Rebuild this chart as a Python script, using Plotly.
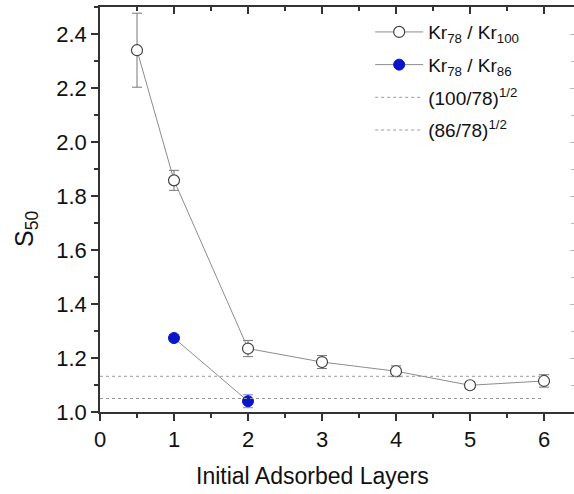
import plotly.graph_objects as go

layers_100 = [0.5, 1, 2, 3, 4, 5, 6]
s50_100 = [2.34, 1.858, 1.235, 1.185, 1.151, 1.099, 1.115]
err_100 = [0.137, 0.037, 0.03, 0.024, 0.02, 0.013, 0.023]

layers_86 = [1, 2]
s50_86 = [1.274, 1.04]
err_86 = [0.012, 0.024]

ref_x = [0, 6]
ref_100 = (100 / 78) ** 0.5
ref_86 = (86 / 78) ** 0.5

FONT = "Liberation Sans, Arial, sans-serif"
AX = "#333333"

fig = go.Figure()
fig.add_trace(go.Scatter(
    x=layers_100, y=s50_100, mode="lines+markers", legendgroup="a",
    name="Kr<sub>78</sub> / Kr<sub>100</sub>",
    line=dict(color="#8c8c8c", width=1),
    marker=dict(symbol="circle", size=11, color="white", line=dict(color="#444444", width=1.2)),
    error_y=dict(type="data", array=err_100, color="#777777", thickness=1, width=5),
))
fig.add_trace(go.Scatter(
    x=layers_86, y=s50_86, mode="lines+markers", legendgroup="b",
    name="Kr<sub>78</sub> / Kr<sub>86</sub>",
    line=dict(color="#8c8c8c", width=1),
    marker=dict(symbol="circle", size=11, color="#0a14c8", line=dict(color="#0a14c8", width=1)),
    error_y=dict(type="data", array=err_86, color="#8080ff", thickness=1, width=5),
))
fig.add_trace(go.Scatter(
    x=ref_x, y=[ref_100] * len(ref_x), mode="lines", legendgroup="c",
    name="(100/78)<sup>1/2</sup>",
    line=dict(color="#999999", width=1, dash="dot"),
))
fig.add_trace(go.Scatter(
    x=ref_x, y=[ref_86] * len(ref_x), mode="lines", legendgroup="d",
    name="(86/78)<sup>1/2</sup>",
    line=dict(color="#999999", width=1, dash="dot"),
))
# invisible trace to activate mirror axes
fig.add_trace(go.Scatter(x=[0], y=[1.0], xaxis="x2", yaxis="y2", mode="markers",
                         marker=dict(opacity=0), showlegend=False, hoverinfo="skip"))

XR = [0, 6.405]
YR = [1.0, 2.5]

fig.update_layout(
    width=574, height=494,
    margin=dict(l=100, r=0, t=7, b=82),
    paper_bgcolor="white", plot_bgcolor="white",
    font=dict(family=FONT, color="#111111"),
    showlegend=True,
    legend=dict(x=0.57, y=0.985, xanchor="left", yanchor="top",
                bgcolor="rgba(0,0,0,0)", font=dict(size=19, family=FONT),
                tracegroupgap=5, itemwidth=48),
    xaxis=dict(range=XR, tickmode="linear", tick0=0, dtick=1,
               ticks="outside", ticklen=7, tickwidth=1.5, tickcolor=AX,
               showline=True, linecolor=AX, linewidth=1.5, showgrid=False, zeroline=False,
               tickfont=dict(size=22, family=FONT, color="#111111"),
               minor=dict(dtick=0.5, tick0=0, ticks="outside", ticklen=4, tickwidth=1.5, tickcolor=AX)),
    yaxis=dict(range=YR, tickmode="linear", tick0=1.0, dtick=0.2, tickformat=".1f",
               ticks="outside", ticklen=7, tickwidth=1.5, tickcolor=AX,
               showline=True, linecolor=AX, linewidth=1.5, showgrid=False, zeroline=False,
               tickfont=dict(size=22, family=FONT, color="#111111"),
               minor=dict(dtick=0.1, tick0=1.0, ticks="outside", ticklen=4, tickwidth=1.5, tickcolor=AX)),
    xaxis2=dict(range=XR, overlaying="x", side="top", anchor="y2", tickmode="linear", tick0=0, dtick=1,
                ticks="inside", ticklen=7, tickwidth=1.5, tickcolor=AX, showticklabels=False,
                showline=True, linecolor=AX, linewidth=1.5, showgrid=False, zeroline=False,
                minor=dict(dtick=0.5, tick0=0, ticks="inside", ticklen=4, tickwidth=1.5, tickcolor=AX)),
    yaxis2=dict(range=YR, overlaying="y", side="right", anchor="x2", tickmode="linear", tick0=1.0, dtick=0.2,
                ticks="inside", ticklen=4, tickwidth=1, tickcolor="#bbbbbb", showticklabels=False,
                showline=False, showgrid=False, zeroline=False,
                minor=dict(dtick=0.1, tick0=1.0, ticks="inside", ticklen=3, tickwidth=1, tickcolor="#bbbbbb")),
)

pw = 574 - 100 - 0
ph = 494 - 7 - 82
def px2paper(px, py):
    return (px - 100) / pw, (494 - 82 - py) / ph

x1, y1 = px2paper(26, 229)
fig.add_annotation(text="S<sub>50</sub>", textangle=-90, showarrow=False,
                   font=dict(size=25, family=FONT, color="#111111"),
                   xref="paper", yref="paper", x=x1, y=y1, xanchor="center", yanchor="middle")
x2, y2 = px2paper(312, 476)
fig.add_annotation(text="Initial Adsorbed Layers", showarrow=False,
                   font=dict(size=23, family=FONT, color="#111111"),
                   xref="paper", yref="paper", x=x2, y=y2, xanchor="center", yanchor="middle")

fig.write_html("out.html")
